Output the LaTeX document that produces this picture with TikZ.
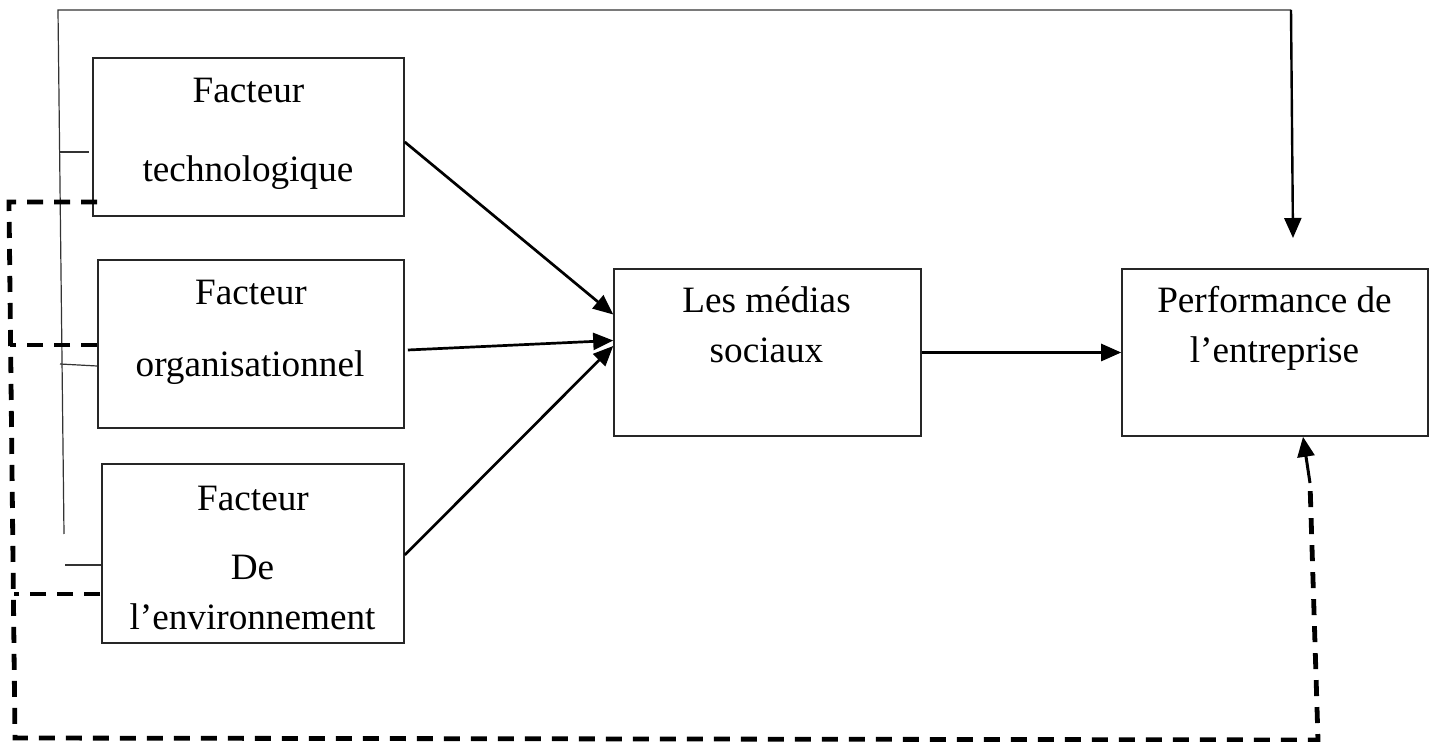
\documentclass[tikz,border=0pt]{standalone}
\usepackage{fontspec}
\setmainfont{Liberation Serif}
\usetikzlibrary{arrows.meta}
\begin{document}
\begin{tikzpicture}[x=0.5pt,y=-0.5pt,
  box/.style={draw=black!85, line width=0.8pt, rectangle, inner sep=0pt},
  lbl/.style={anchor=base, inner sep=0pt, font=\fontsize{18.6}{21}\selectfont},
  arr/.style={line width=1.35pt, -{Triangle[length=10pt,width=8.5pt]}},
  thinline/.style={line width=0.6pt, draw=black!80},
  dashline/.style={line width=2.4pt, dash pattern=on 8pt off 5.5pt},
]
\useasboundingbox (0,0) rectangle (1435,742);

% factor boxes
\node[box, minimum width=155.5pt, minimum height=79pt]  (b1) at (248.5,137) {};
\node[box, minimum width=153pt,   minimum height=84pt]  (b2) at (251,344) {};
\node[box, minimum width=151pt,   minimum height=89.5pt] (b3) at (253,553.5) {};
% social media and performance boxes
\node[box, minimum width=153.5pt, minimum height=83.5pt] (med)  at (767.5,352.5) {};
\node[box, minimum width=153pt,   minimum height=83.5pt] (perf) at (1275,352.5) {};

% labels
\node[lbl] (b1a) at (248.5,103) {Facteur};
\node[lbl] (b1b) at (248,182) {technologique};
\node[lbl] (b2a) at (251,305) {Facteur};
\node[lbl] (b2b) at (250,377) {organisationnel};
\node[lbl] (b3a) at (253,511) {Facteur};
\node[lbl] (b3b) at (252.5,580) {De};
\node[lbl] (b3c) at (252.5,630) {l’environnement};
\node[lbl] (meda) at (766.5,313) {Les médias};
\node[lbl] (medb) at (766.5,363) {sociaux};
\node[lbl] (perfa) at (1274.5,313) {Performance de};
\node[lbl] (perfb) at (1274.5,363) {l’entreprise};

% arrows into the social media box
\draw[arr] ([yshift=-2.5pt]b1.east) -- ([yshift=19pt]med.west);
\draw[arr] ([xshift=1.5pt,yshift=-3pt]b2.east) -- ([yshift=6pt]med.west);
\draw[arr] ([yshift=-0.75pt]b3.east) -- ([yshift=3.25pt]med.west);
\draw[arr] (med.east) -- (perf.west);

% direct link from the factors to performance (solid)
\coordinate (vb)   at (64,534);
\coordinate (topL) at (58,10);
\coordinate (topR) at (1291,10);
\coordinate (pin)  at (1293,238);
\draw[thinline] (vb) -- (topL) -- (topR);
\draw[arr, line width=1.2pt] (topR) -- (pin);
\draw[thinline] (60,152) -- (89,152);
\draw[thinline] (60,364) -- ([yshift=-11pt]b2.west);
\draw[thinline] (65,565) -- ([yshift=-5.75pt]b3.west);

% feedback link (dashed)
\coordinate (dTop) at (9,202);
\coordinate (dBL)  at (15,738);
\coordinate (dBR)  at (1318,740);
\coordinate (dUp)  at (1310,483);
\draw[dashline] (97,202) -- (dTop) -- (dBL) -- (dBR) -- (dUp);
\draw[dashline] ([yshift=-0.5pt]b2.west) -- (10,345);
\draw[dashline] (100,594) -- (14,594);
\draw[arr, line width=1.5pt] (dUp) -- ([xshift=14pt]perf.south);
\end{tikzpicture}
\end{document}
